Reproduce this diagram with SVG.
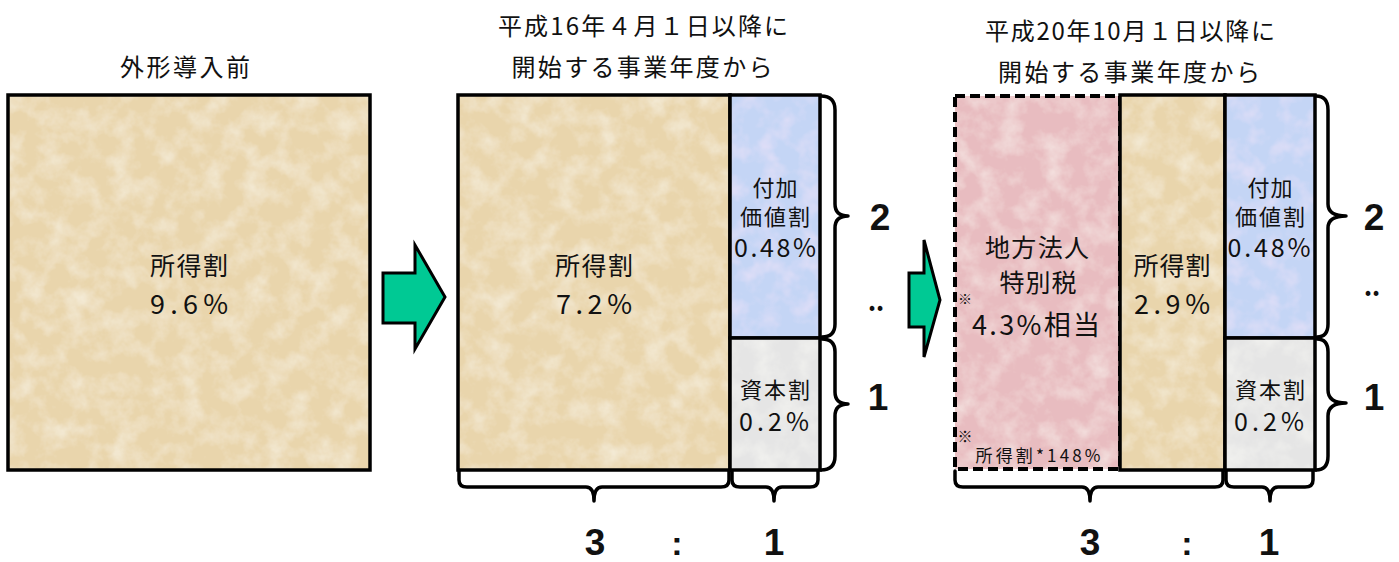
<svg xmlns="http://www.w3.org/2000/svg" width="1399" height="562" viewBox="0 0 1399 562">
<style>
.t{font-family:"Noto Sans CJK JP","Noto Sans CJK SC",sans-serif;fill:#111;text-anchor:middle}
.h{font-size:24px}
.m{font-size:25px}
.n{font-size:27px}
.s{font-size:22px}
.b{font-family:"Liberation Sans",Arial,sans-serif;font-weight:bold;font-size:37px;fill:#111;text-anchor:middle}
.d{font-family:"Liberation Sans",Arial,sans-serif;font-weight:bold;font-size:30px;fill:#111;text-anchor:middle}
.frame{fill:none;stroke:#000;stroke-width:3.5}
.dash{fill:none;stroke:#000;stroke-width:4;stroke-dasharray:10 5}
.brace{fill:none;stroke:#000;stroke-width:3.5;stroke-linejoin:round;stroke-linecap:round}
.arrow{fill:#00C994;stroke:#000;stroke-width:3;stroke-linejoin:miter}
.beige{fill:#E9D5AC}
.blue{fill:#C4D5F5}
.gray{fill:#E5E5E5}
.pink{fill:#E8BCC0}
</style>
<defs>
<filter id="tex" x="0" y="0" width="100%" height="100%">
<feTurbulence type="fractalNoise" baseFrequency="0.045" numOctaves="4" seed="7" result="n"/>
<feColorMatrix in="n" type="matrix" values="0 0 0 0 1  0 0 0 0 1  0 0 0 0 0.95  0.9 0 0 0 -0.36" result="w"/>
<feComposite in="w" in2="SourceGraphic" operator="in" result="wi"/>
<feMerge><feMergeNode in="SourceGraphic"/><feMergeNode in="wi"/></feMerge>
</filter>
<filter id="texb" x="0" y="0" width="100%" height="100%">
<feTurbulence type="fractalNoise" baseFrequency="0.05" numOctaves="3" seed="11" result="n"/>
<feColorMatrix in="n" type="matrix" values="0 0 0 0 0.88  0 0 0 0 0.78  0 0 0 0 0.95  0 1.2 0 0 -0.5" result="w"/>
<feComposite in="w" in2="SourceGraphic" operator="in" result="wi"/>
<feMerge><feMergeNode in="SourceGraphic"/><feMergeNode in="wi"/></feMerge>
</filter>
</defs>

<g id="header1">
<text class="t h" x="185" y="76" textLength="130" lengthAdjust="spacing">外形導入前</text>
</g>
<g id="header2">
<text class="t h" x="643" y="35" textLength="290" lengthAdjust="spacing">平成16年４月１日以降に</text>
<text class="t h" x="642" y="76" textLength="261" lengthAdjust="spacing">開始する事業年度から</text>
</g>
<g id="header3">
<text class="t h" x="1130" y="40" textLength="290" lengthAdjust="spacing">平成20年10月１日以降に</text>
<text class="t h" x="1129" y="81" textLength="262" lengthAdjust="spacing">開始する事業年度から</text>
</g>

<g id="box1">
<rect class="beige" x="8" y="95" width="362" height="375" filter="url(#tex)"/>
<rect class="frame" x="8" y="95" width="362" height="375"/>
<text class="t m" x="189" y="275" textLength="78" lengthAdjust="spacing">所得割</text>
<text class="t n" x="189" y="314" textLength="78" lengthAdjust="spacing">9.6%</text>
</g>

<g id="box2-income">
<rect class="beige" x="458" y="95" width="272" height="375" filter="url(#tex)"/>
<rect class="frame" x="458" y="95" width="272" height="375"/>
<text class="t m" x="594" y="275" textLength="78" lengthAdjust="spacing">所得割</text>
<text class="t n" x="594" y="314" textLength="76" lengthAdjust="spacing">7.2%</text>
</g>
<g id="box2-value">
<rect class="blue" x="730" y="95" width="90" height="243" filter="url(#texb)"/>
<rect class="frame" x="730" y="95" width="90" height="243"/>
<text class="t s" x="775" y="196" textLength="45" lengthAdjust="spacing">付加</text>
<text class="t s" x="775" y="225" textLength="70" lengthAdjust="spacing">価値割</text>
<text class="t m" x="775" y="257" textLength="82" lengthAdjust="spacing">0.48%</text>
</g>
<g id="box2-capital">
<rect class="gray" x="730" y="338" width="90" height="132" filter="url(#tex)"/>
<rect class="frame" x="730" y="338" width="90" height="132"/>
<text class="t s" x="775" y="398" textLength="70" lengthAdjust="spacing">資本割</text>
<text class="t m" x="774" y="431" textLength="70" lengthAdjust="spacing">0.2%</text>
</g>

<g id="box3-special">
<rect class="pink" x="955" y="96" width="165" height="373" filter="url(#tex)"/>
<rect class="dash" x="955" y="96" width="165" height="373"/>
<text class="t m" x="1037" y="257" textLength="104" lengthAdjust="spacing">地方法人</text>
<text class="t m" x="1038" y="292" textLength="77" lengthAdjust="spacing">特別税</text>
<text class="t" x="965" y="304" style="font-size:14px">※</text>
<text class="t n" x="1036" y="335" textLength="128" lengthAdjust="spacing">4.3%相当</text>
<text class="t" x="965" y="442" style="font-size:15px">※</text>
<text class="t" x="1038" y="462" style="font-size:17px" textLength="125" lengthAdjust="spacing">所得割*148%</text>
</g>
<g id="box3-income">
<rect class="beige" x="1120" y="95" width="105" height="375" filter="url(#tex)"/>
<rect class="frame" x="1120" y="95" width="105" height="375"/>
<text class="t m" x="1172" y="275" textLength="77" lengthAdjust="spacing">所得割</text>
<text class="t n" x="1172" y="314" textLength="76" lengthAdjust="spacing">2.9%</text>
</g>
<g id="box3-value">
<rect class="blue" x="1225" y="95" width="90" height="243" filter="url(#texb)"/>
<rect class="frame" x="1225" y="95" width="90" height="243"/>
<text class="t s" x="1270" y="196" textLength="45" lengthAdjust="spacing">付加</text>
<text class="t s" x="1270" y="225" textLength="70" lengthAdjust="spacing">価値割</text>
<text class="t m" x="1269" y="257" textLength="83" lengthAdjust="spacing">0.48%</text>
</g>
<g id="box3-capital">
<rect class="gray" x="1225" y="338" width="90" height="132" filter="url(#tex)"/>
<rect class="frame" x="1225" y="338" width="90" height="132"/>
<text class="t s" x="1270" y="398" textLength="70" lengthAdjust="spacing">資本割</text>
<text class="t m" x="1269" y="431" textLength="70" lengthAdjust="spacing">0.2%</text>
</g>

<g id="connectors">
<path class="arrow" d="M383,273 H415 V245 L445,297 L415,349 V323 H383 Z"/>
<path class="arrow" d="M909,273 H924 V240 L940,300 L924,357 V327 H909 Z"/>
<path class="brace" d="M821,96 Q835,96 835,110 V204 Q835,216 848,216 Q835,216 835,228 V324 Q835,337 822,337"/>
<path class="brace" d="M822,339 Q835,339 835,352 V392 Q835,404 848,404 Q835,404 835,416 V456 Q835,470 821,470"/>
<path class="brace" d="M1316,96 Q1328,96 1328,110 V204 Q1328,216 1346,216 Q1328,216 1328,228 V324 Q1328,337 1317,337"/>
<path class="brace" d="M1317,339 Q1328,339 1328,352 V390 Q1328,403 1346,403 Q1328,403 1328,416 V456 Q1328,470 1316,470"/>
<path class="brace" d="M459,471 V480 Q459,487 467,487 H586 Q594,487 594,501 Q594,487 602,487 H721 Q729,487 729,480 V471"/>
<path class="brace" d="M732,471 V480 Q732,487 740,487 H766 Q774,487 774,501 Q774,487 782,487 H810 Q818,487 818,480 V471"/>
<path class="brace" d="M955,471 V480 Q955,487 963,487 H1082 Q1090,487 1090,501 Q1090,487 1098,487 H1215 Q1223,487 1223,480 V471"/>
<path class="brace" d="M1226,471 V480 Q1226,487 1234,487 H1262 Q1270,487 1270,501 Q1270,487 1278,487 H1305 Q1313,487 1313,480 V471"/>
</g>

<g id="ratio-labels">
<text class="b" x="880" y="230">2</text>
<text class="d" x="876" y="310">‥</text>
<text class="b" x="878" y="410">1</text>
<text class="b" x="1374" y="230">2</text>
<text class="d" x="1372" y="295">‥</text>
<text class="b" x="1374" y="410">1</text>
<text class="b" x="595" y="555">3</text>
<text class="b" x="677" y="555" style="font-size:34px">:</text>
<text class="b" x="774" y="555">1</text>
<text class="b" x="1090" y="555">3</text>
<text class="b" x="1187" y="555" style="font-size:34px">:</text>
<text class="b" x="1269" y="555">1</text>
</g>
</svg>
